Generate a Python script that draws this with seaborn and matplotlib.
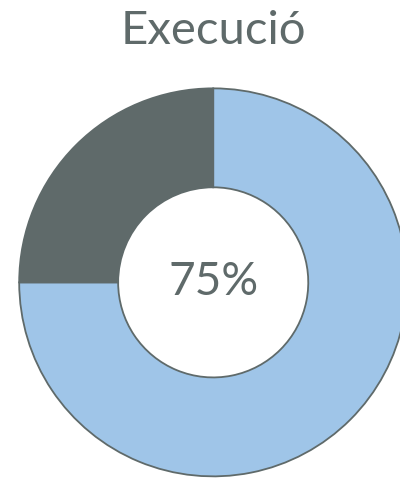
import matplotlib
matplotlib.use("Agg")
import matplotlib.pyplot as plt
import seaborn as sns

# dades del gràfic
parts = ["Executat", "Pendent"]
valors = [75, 25]
colors = ["#9fc5e8", "#5f6a6a"]
titol = "Execució"
etiqueta = "75%"

sns.set_theme(style="white")
plt.rcParams['font.family'] = ['Lato', 'DejaVu Sans']

fig = plt.figure(figsize=(4, 4.83), dpi=100)
ax = fig.add_axes([0.048, 0.0104, 0.97, 0.81])

ax.pie(valors, labels=None, colors=colors, startangle=90, counterclock=False,
       radius=1, wedgeprops=dict(width=0.51, edgecolor="#5f6a6a", linewidth=1.3))
ax.set_xlim(-1, 1)
ax.set_ylim(-1, 1)
ax.set_aspect('equal')
ax.axis('off')

ax.text(0, 0.0, etiqueta, ha='center', va='center', fontsize=33, color="#5f6a6a")
fig.text(213 / 400, 1 - 31 / 483, titol, ha='center', va='center', fontsize=34, color="#5f6a6a")

fig.savefig("out.png", dpi=100)
